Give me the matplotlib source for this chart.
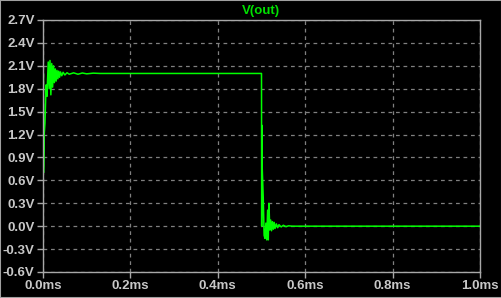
import matplotlib
matplotlib.use('Agg')
import matplotlib.pyplot as plt
from matplotlib.patches import Rectangle

# time (ms) and voltage (V)
t_ms = [0.0000, 0.0008, 0.0012, 0.0030, 0.0045, 0.0070, 0.0090,
        0.0120, 0.0140, 0.0160, 0.0180, 0.0200, 0.0220, 0.0240,
        0.0260, 0.0280, 0.0300, 0.0320, 0.0340, 0.0360, 0.0380,
        0.0400, 0.0430, 0.0460, 0.0500, 0.0550, 0.0600, 0.0700,
        0.0800, 0.0900, 0.1000, 0.1150, 0.1300, 0.5000,
        0.5004, 0.5010, 0.5016, 0.5040, 0.5060, 0.5080, 0.5100,
        0.5120, 0.5140, 0.5155, 0.5170, 0.5190, 0.5210, 0.5230,
        0.5250, 0.5270, 0.5290, 0.5310, 0.5340, 0.5370, 0.5400,
        0.5450, 0.5500, 0.5560, 0.5620, 0.5700, 1.0000]
v_out = [0.00, 2.00, 0.70, 1.22, 1.35, 1.85, 1.70,
         2.15, 1.80, 2.17, 1.72, 2.13, 1.82, 2.10,
         1.88, 2.06, 1.90, 2.04, 1.93, 2.03, 1.95,
         2.02, 1.97, 2.015, 1.98, 2.01, 1.99, 2.008,
         1.99, 2.006, 1.995, 2.004, 2.00, 2.00,
         0.00, 1.32, 0.77, 0.37, -0.12, -0.16, 0.04,
         -0.18, 0.21, -0.18, 0.30, -0.05, 0.08, -0.06,
         0.06, -0.04, 0.05, -0.03, 0.03, -0.02, 0.02,
         -0.01, 0.012, -0.006, 0.005, 0.00, 0.00]

y_ticks = [-0.6, -0.3, 0.0, 0.3, 0.6, 0.9, 1.2, 1.5, 1.8, 2.1, 2.4, 2.7]
x_ticks = [0.0, 0.2, 0.4, 0.6, 0.8, 1.0]

W, H = 502, 298
fig = plt.figure(figsize=(W / 100, H / 100), dpi=100, facecolor='black')
ax = fig.add_axes([43 / W, 1 - 272 / H, (480 - 43) / W, (272 - 20) / H])
ax.set_facecolor('black')

ax.plot(t_ms, v_out, color='#00ff00', lw=1.1)

ax.set_xlim(0, 1.0)
ax.set_ylim(-0.6, 2.7)
ax.set_xticks(x_ticks)
ax.set_yticks(y_ticks)
ax.set_xticklabels(['%.1fms' % x for x in x_ticks])
ax.set_yticklabels(['%.1fV' % y for y in y_ticks])

ax.grid(True, color='#808080', ls=(0, (3, 3)), lw=0.9)
for s in ax.spines.values():
    s.set_color('#a8a8a8')
    s.set_linewidth(1.0)
ax.tick_params(colors='#a8a8a8', labelcolor='#c8c8c8', length=4, width=1,
               labelsize=9.5, pad=2)
for lab in ax.get_xticklabels() + ax.get_yticklabels():
    lab.set_fontweight('bold')
    lab.set_family('Liberation Sans')

fig.text(261 / W, 1 - 11 / H, 'V(out)', color='#00e000', fontsize=9.5,
         fontweight='bold', family='Liberation Sans', ha='center', va='center')

# window border
fig.add_artist(Rectangle((0, 0), 1, 1, transform=fig.transFigure,
                         fill=False, edgecolor='#a0a0a0', lw=1.5))

fig.savefig('out.png', dpi=100, facecolor='black')
